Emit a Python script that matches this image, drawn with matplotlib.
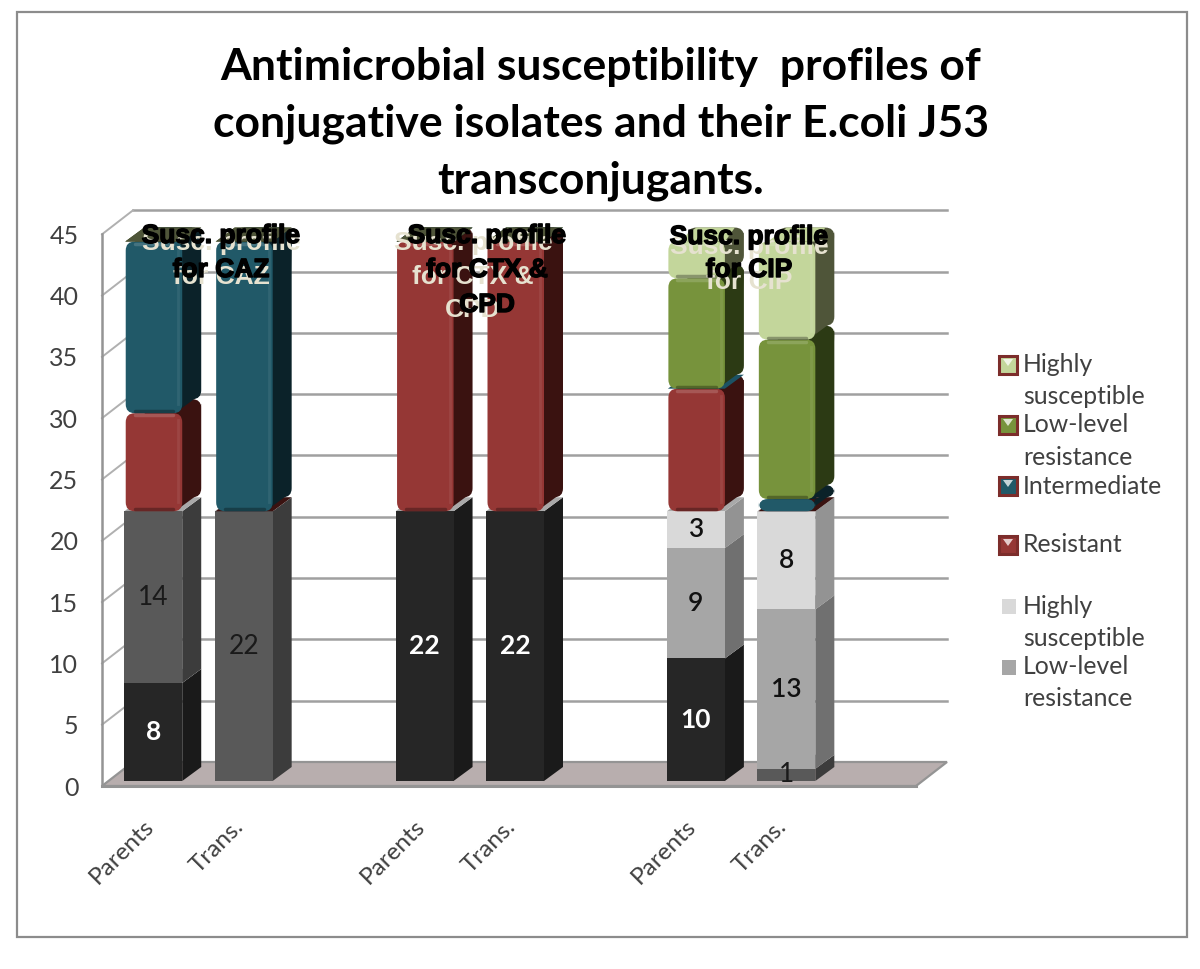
import matplotlib
matplotlib.use("Agg")
import matplotlib.pyplot as plt
import matplotlib.patheffects as pe
from matplotlib.patches import Polygon, Rectangle, FancyBboxPatch

plt.rcParams['font.family'] = ['Lato', 'DejaVu Sans']

title = "Antimicrobial susceptibility  profiles of\nconjugative isolates and their E.coli J53\ntransconjugants."
bar_labels = ["Parents", "Trans.", "Parents", "Trans.", "Parents", "Trans."]
bar_pos = [0, 1, 3, 4, 6, 7]

# same counts feed the grey (lower) stack and the coloured (upper) stack
resistant = [8, 0, 22, 22, 10, 0]
intermediate = [14, 22, 0, 0, 0, 1]
low_level = [0, 0, 0, 0, 9, 13]
highly = [0, 0, 0, 0, 3, 8]
series = [resistant, intermediate, low_level, highly]

yticks = [0, 5, 10, 15, 20, 25, 30, 35, 40, 45]

grey_front = ['#262626', '#595959', '#a6a6a6', '#d9d9d9']
grey_side = ['#1a1a1a', '#3c3c3c', '#707070', '#939393']
col_front = ['#953735', '#215968', '#77933c', '#c3d69b']
col_side = ['#3a1210', '#0b2229', '#2c3a14', '#4f5539']

# px sizes of the fake 3d box
PX_X = 814 / 9.0
PX_Y = 12.26
AX_L, AX_R, AX_B = 102, 916, 786


def dx(px):
    return px / PX_X


def dy(px):
    return px / PX_Y


fig = plt.figure(figsize=(12, 9.69), dpi=100, facecolor='white')
ax = fig.add_axes([AX_L / 1200, (969 - AX_B) / 969, (AX_R - AX_L) / 1200, 45 * PX_Y / 969])
ax.set_xlim(-0.5, 8.5)
ax.set_ylim(0, 45)
ax.patch.set_alpha(0)
for s in ['top', 'right', 'bottom']:
    ax.spines[s].set_visible(False)
ax.spines['left'].set_color('#949494')
ax.spines['left'].set_linewidth(1.8)

# back wall
back_x, back_y = dx(31), dy(24)
for v in yticks:
    if v > 0:
        ax.plot([-0.5 + back_x, 8.5 + back_x], [v + back_y, v + back_y], color='#a0a0a0', lw=1.8,
                clip_on=False, zorder=1)
        ax.plot([-0.5, -0.5 + back_x], [v, v + back_y], color='#b0b0b0', lw=1.4, clip_on=False, zorder=1)

# floor
floor = Polygon([(-0.5, 0), (8.5, 0), (8.5 + back_x, back_y), (-0.5 + back_x, back_y)], closed=True,
                facecolor='#b8aeae', edgecolor='#949494', lw=1.6, clip_on=False, zorder=2)
ax.add_patch(floor)
ax.plot([-0.5, 8.5], [0, 0], color='#949494', lw=2.2, clip_on=False, zorder=2)

bar_w = dx(58)
off_x, off_y = dx(6) - bar_w / 2, dy(5)
side_x, side_y = dx(19), dy(14)


def flat_box(x, y0, h, front, side, z):
    x1 = x + bar_w
    ax.add_patch(Polygon([(x1, y0), (x1 + side_x, y0 + side_y), (x1 + side_x, y0 + h + side_y), (x1, y0 + h)],
                         closed=True, facecolor=side, edgecolor='none', clip_on=False, zorder=z))
    ax.add_patch(Polygon([(x, y0 + h), (x1, y0 + h), (x1 + side_x, y0 + h + side_y), (x + side_x, y0 + h + side_y)],
                         closed=True, facecolor='#a9a9a9', edgecolor='none', clip_on=False, zorder=z))
    ax.add_patch(Rectangle((x, y0), bar_w, h, facecolor=front, edgecolor='none', clip_on=False, zorder=z))


def round_box(x, y0, h, front, side, top, z):
    inset = dx(1.5)
    x0 = x + inset
    w = bar_w - inset
    x1 = x0 + w
    r = dx(9)
    asp = PX_X / PX_Y
    style = "round,pad=0,rounding_size=%f" % r
    # back shell, then the part joining it to the front
    ax.add_patch(FancyBboxPatch((x0 + side_x, y0 + side_y), w, h, boxstyle=style, mutation_aspect=asp,
                                facecolor=side, edgecolor='none', clip_on=False, zorder=z))
    ax.add_patch(Polygon([(x1 - r / 2, y0 + dy(2)), (x1 + side_x - r / 2, y0 + side_y + dy(2)),
                          (x1 + side_x, y0 + h + side_y - dy(5)), (x1, y0 + h)],
                         closed=True, facecolor=side, edgecolor='none', clip_on=False, zorder=z))
    ax.add_patch(Polygon([(x0 + r, y0 + h), (x1, y0 + h), (x1 + side_x - r, y0 + h + side_y),
                          (x0 + side_x + r, y0 + h + side_y)],
                         closed=True, facecolor=top, edgecolor='none', clip_on=False, zorder=z))
    ax.add_patch(FancyBboxPatch((x0, y0), w, h, boxstyle=style, mutation_aspect=asp,
                                facecolor=front, edgecolor='none', clip_on=False, zorder=z))
    # bevel highlights
    if h > dy(20):
        ax.plot([x0 + r, x1 - r], [y0 + h - dy(2), y0 + h - dy(2)], color='white', alpha=0.16, lw=2.5,
                solid_capstyle='round', clip_on=False, zorder=z)
        ax.plot([x0 + r, x1 - r], [y0 + dy(2), y0 + dy(2)], color='black', alpha=0.3, lw=2.5,
                solid_capstyle='round', clip_on=False, zorder=z)
        ax.plot([x1 - dx(4), x1 - dx(4)], [y0 + dy(9), y0 + h - dy(7)], color='white', alpha=0.07, lw=2,
                clip_on=False, zorder=z)


def flat_sheet(x, y0, color, z):
    x1 = x + bar_w
    ax.add_patch(Polygon([(x + dx(1), y0), (x1, y0), (x1 + side_x, y0 + side_y), (x + side_x + dx(1), y0 + side_y)],
                         closed=True, facecolor=color, edgecolor='none', clip_on=False, zorder=z))


z = 3
for b, pos in enumerate(bar_pos):
    left = pos + off_x
    base = off_y
    for s, vals in enumerate(series):
        v = vals[b]
        if v == 0:
            continue
        flat_box(left, base, v, grey_front[s], grey_side[s], z)
        if s == 0:
            tc, fw = 'white', 'bold'
        elif s == 1:
            tc, fw = '#1a1a1a', 'normal'
        else:
            tc, fw = '#111111', 'semibold'
        ax.text(pos + dx(6), base + v / 2.0, str(v), color=tc, fontweight=fw, fontsize=19,
                ha='center', va='center', zorder=500)
        base += v
        z += 1
    for s, vals in enumerate(series):
        v = vals[b]
        if v == 0:
            flat_sheet(left, base, col_side[s] if s != 1 else '#1c5264', z)
        else:
            top = col_front[s] if s == 3 else col_side[s]
            round_box(left, base, v, col_front[s], col_side[s], top, z)
        base += v
        z += 1

ax.set_yticks(yticks)
ax.tick_params(axis='y', length=0, pad=17, labelsize=18, labelcolor='#404040')
ax.set_xticks([p + dx(3) for p in bar_pos])
ax.set_xticklabels(bar_labels, rotation=45, ha='right', va='center', rotation_mode='anchor',
                   fontsize=17.5, color='#404040')
ax.tick_params(axis='x', length=0, pad=27)

# page layer in pixel coordinates: frame, title, legend, overlay labels
page = fig.add_axes([0, 0, 1, 1], zorder=10)
page.set_xlim(0, 1200)
page.set_ylim(969, 0)
page.axis('off')
page.patch.set_alpha(0)
page.add_patch(Rectangle((17, 12), 1170, 925, fill=False, edgecolor='#8c8c8c', lw=1.6))

page.text(601, 124, title, ha='center', va='center', fontsize=32, fontweight='bold', color='black',
          linespacing=1.5)

# legend
legend_col = [
    (["Highly", "susceptible"], [365, 397], col_front[3]),
    (["Low-level", "resistance"], [425, 457], col_front[2]),
    (["Intermediate"], [486], col_front[1]),
    (["Resistant"], [545], col_front[0]),
]
legend_grey = [
    (["Highly", "susceptible"], [606, 638], grey_front[3]),
    (["Low-level", "resistance"], [667, 698], grey_front[2]),
]
for lines, ys, col in legend_col:
    page.add_patch(Rectangle((999, ys[0] - 9), 18, 18, facecolor=col, edgecolor='#7c2d2b', lw=2.2))
    page.add_patch(Polygon([(1003, ys[0] - 6), (1013, ys[0] - 6), (1008, ys[0] + 1)], closed=True,
                           facecolor='white', alpha=0.75, edgecolor='none'))
    for t, y in zip(lines, ys):
        page.text(1023, y, t, fontsize=17.8, color='#404040', va='center', ha='left')
for lines, ys, col in legend_grey:
    page.add_patch(Rectangle((1002, ys[0] - 7.5), 14, 15, facecolor=col, edgecolor='none'))
    for t, y in zip(lines, ys):
        page.text(1023, y, t, fontsize=17.8, color='#404040', va='center', ha='left')

# the double text boxes over the bars
overlay = [
    (["Susc. profile", "for CAZ"], 221, 221, [236, 270], [243, 277]),
    (["Susc. profile", "for CTX &", "CPD"], 487, 473, [236, 270, 305], [243, 277, 310]),
    (["Susc. profile", "for CIP"], 749, 749, [237, 270], [247, 282]),
]
for lines, xb, xp, yb, yp in overlay:
    for t, y in zip(lines, yp):
        page.text(xp, y, t, family='Liberation Sans', fontweight='bold', fontsize=19, color='#e6e2d0',
                  ha='center', va='center')
    for t, y in zip(lines, yb):
        page.text(xb, y, t, family='Liberation Sans', fontweight='bold', fontsize=19, color='black',
                  ha='center', va='center',
                  path_effects=[pe.withStroke(linewidth=1.0, foreground='black')])

fig.savefig('out.png', dpi=100)
